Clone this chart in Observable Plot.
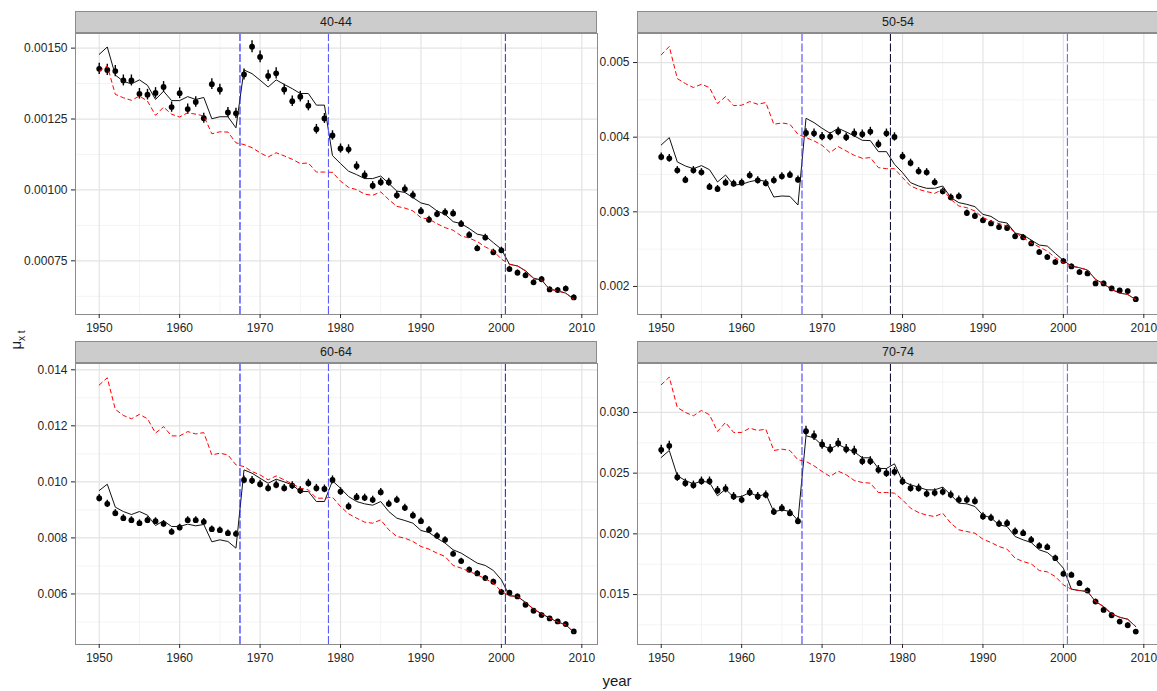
<!DOCTYPE html>
<html>
<head>
<meta charset="utf-8">
<script src="https://cdn.jsdelivr.net/npm/d3@7"></script>
<script src="https://cdn.jsdelivr.net/npm/@observablehq/plot@0.6"></script>
<style>
  html, body { margin: 0; padding: 0; background: #fff; }
  #wrap { position: relative; width: 1157px; height: 691px; overflow: hidden; background: #fff;
          font-family: "Liberation Sans Narrow", "Liberation Sans", Arial, sans-serif; }
  .strip { position: absolute; box-sizing: border-box; background: #cccccc; border: 1px solid #8c8c8c;
           text-align: center; font-size: 12.5px; line-height: 20px; color: #1a1a1a; }
  .panel { position: absolute; }
</style>
</head>
<body>
<div id="wrap"></div>
<script>
// ---------------- data ----------------
const years = [1950,1951,1952,1953,1954,1955,1956,1957,1958,1959,
               1960,1961,1962,1963,1964,1965,1966,1967,1968,1969,
               1970,1971,1972,1973,1974,1975,1976,1977,1978,1979,
               1980,1981,1982,1983,1984,1985,1986,1987,1988,1989,
               1990,1991,1992,1993,1994,1995,1996,1997,1998,1999,
               2000,2001,2002,2003,2004,2005,2006,2007,2008,2009];
const ageGroups = ["40-44", "50-54", "60-64", "70-74"];
const breakYears = [1967.5, 1978.5, 2000.5];
const xTicks = [1950, 1960, 1970, 1980, 1990, 2000, 2010];

// observed rates (points)
const obs4044 = [0.001427,0.001423,0.001419,0.001386,0.001386,0.001339,0.001336,0.001342,0.001363,0.001292,
  0.001341,0.001285,0.001310,0.001253,0.001373,0.001354,0.001273,0.001270,0.001407,0.001505,
  0.001469,0.001402,0.001411,0.001354,0.001313,0.001329,0.001297,0.001214,0.001252,0.001192,
  0.001146,0.001143,0.001084,0.001052,0.001015,0.001027,0.001027,0.000981,0.001003,0.000982,
  0.000925,0.000895,0.000915,0.000921,0.000917,0.000880,0.000841,0.000794,0.000832,0.000780,
  0.000787,0.000721,0.000708,0.000699,0.000674,0.000685,0.000649,0.000647,0.000652,0.000621];
// fitted model (solid black line)
const fit4044 = [0.001478,0.001504,0.001405,0.001383,0.001374,0.001388,0.001369,0.001319,0.001348,0.001315,
  0.001315,0.001329,0.001319,0.001326,0.001251,0.001258,0.001258,0.001219,0.001423,0.001410,
  0.001387,0.001363,0.001388,0.001372,0.001357,0.001340,0.001340,0.001299,0.001299,0.001121,
  0.001093,0.001066,0.001054,0.001040,0.001040,0.001049,0.001023,0.000996,0.000991,0.000973,
  0.000954,0.000947,0.000926,0.000914,0.000888,0.000881,0.000864,0.000844,0.000838,0.000814,
  0.000791,0.000738,0.000732,0.000715,0.000689,0.000682,0.000650,0.000644,0.000636,0.000615];
// baseline model (red dashed line)
const base4044 = [0.001419,0.001437,0.001337,0.001325,0.001316,0.001331,0.001313,0.001263,0.001292,0.001267,
  0.001257,0.001272,0.001267,0.001261,0.001198,0.001205,0.001204,0.001166,0.001160,0.001149,
  0.001131,0.001116,0.001131,0.001120,0.001108,0.001093,0.001095,0.001063,0.001063,0.001062,
  0.001031,0.001009,0.001001,0.000985,0.000981,0.000993,0.000966,0.000942,0.000936,0.000926,
  0.000902,0.000897,0.000881,0.000867,0.000858,0.000838,0.000830,0.000818,0.000799,0.000785,
  0.000756,0.000738,0.000732,0.000714,0.000686,0.000682,0.000650,0.000644,0.000636,0.000615];

const obs5054 = [0.003735,0.003717,0.003556,0.003426,0.003556,0.003529,0.003333,0.003306,0.003391,0.003377,
  0.003391,0.003489,0.003422,0.003382,0.003422,0.003476,0.003494,0.003431,0.004057,0.004052,
  0.004008,0.004008,0.004075,0.003999,0.004052,0.004039,0.004075,0.003905,0.004052,0.004003,
  0.003744,0.003654,0.003543,0.003529,0.003395,0.003274,0.003194,0.003207,0.002984,0.002944,
  0.002886,0.002845,0.002796,0.002783,0.002671,0.002658,0.002577,0.002461,0.002394,0.002327,
  0.002340,0.002269,0.002193,0.002175,0.002041,0.002041,0.001974,0.001947,0.001938,0.001830];
const fit5054 = [0.003896,0.003994,0.003668,0.003614,0.003578,0.003619,0.003565,0.003400,0.003493,0.003359,
  0.003368,0.003404,0.003426,0.003409,0.003198,0.003212,0.003207,0.003091,0.004253,0.004195,
  0.004119,0.004052,0.004119,0.004070,0.004017,0.003958,0.003954,0.003806,0.003806,0.003637,
  0.003525,0.003391,0.003346,0.003315,0.003315,0.003346,0.003190,0.003123,0.003100,0.003069,
  0.002966,0.002939,0.002868,0.002850,0.002716,0.002689,0.002622,0.002555,0.002541,0.002443,
  0.002349,0.002273,0.002251,0.002220,0.002094,0.002036,0.001960,0.001911,0.001893,0.001822];
const base5054 = [0.005103,0.005215,0.004785,0.004718,0.004665,0.004709,0.004665,0.004450,0.004544,0.004423,
  0.004428,0.004477,0.004441,0.004464,0.004173,0.004191,0.004173,0.004039,0.003994,0.003950,
  0.003891,0.003793,0.003874,0.003815,0.003757,0.003717,0.003726,0.003592,0.003578,0.003578,
  0.003458,0.003346,0.003301,0.003270,0.003248,0.003301,0.003167,0.003078,0.003055,0.003011,
  0.002921,0.002877,0.002841,0.002810,0.002720,0.002653,0.002586,0.002528,0.002474,0.002385,
  0.002318,0.002273,0.002251,0.002220,0.002094,0.002036,0.001960,0.001911,0.001893,0.001822];

const obs6064 = [0.009418,0.009216,0.008883,0.008705,0.008633,0.008526,0.008633,0.008598,0.008503,0.008217,
  0.008372,0.008633,0.008633,0.008574,0.008312,0.008277,0.008170,0.008146,0.010071,0.010048,
  0.009917,0.009774,0.009893,0.009774,0.009869,0.009691,0.009952,0.009774,0.009750,0.010071,
  0.009655,0.009121,0.009453,0.009430,0.009358,0.009632,0.009216,0.009358,0.009073,0.008800,
  0.008598,0.008289,0.008075,0.007932,0.007433,0.007172,0.006863,0.006732,0.006565,0.006435,
  0.006066,0.006043,0.005912,0.005615,0.005401,0.005246,0.005127,0.005021,0.004926,0.004664];
const fit6064 = [0.009691,0.009917,0.009097,0.008942,0.008835,0.008942,0.008812,0.008443,0.008610,0.008408,
  0.008408,0.008491,0.008431,0.008479,0.007861,0.007932,0.007873,0.007635,0.010428,0.010309,
  0.010131,0.009952,0.010095,0.010000,0.009893,0.009655,0.009655,0.009299,0.009299,0.010036,
  0.009774,0.009477,0.009299,0.009216,0.009168,0.009299,0.008942,0.008705,0.008621,0.008526,
  0.008265,0.008194,0.007992,0.007813,0.007576,0.007457,0.007279,0.007100,0.007017,0.006839,
  0.006506,0.005936,0.005912,0.005698,0.005460,0.005294,0.005139,0.004997,0.004902,0.004628];
const base6064 = [0.013458,0.013715,0.012591,0.012372,0.012253,0.012408,0.012253,0.011741,0.011973,0.011641,
  0.011641,0.011795,0.011711,0.011759,0.010963,0.011022,0.010963,0.010606,0.010547,0.010368,
  0.010250,0.010071,0.010214,0.010071,0.009929,0.009774,0.009715,0.009418,0.009418,0.009453,
  0.009121,0.008859,0.008705,0.008562,0.008526,0.008645,0.008289,0.008051,0.007992,0.007873,
  0.007694,0.007599,0.007457,0.007338,0.007017,0.006922,0.006803,0.006684,0.006542,0.006387,
  0.006090,0.005936,0.005912,0.005698,0.005460,0.005294,0.005139,0.004997,0.004902,0.004628];

const obs7074 = [0.026923,0.027253,0.024670,0.024176,0.024011,0.024341,0.024341,0.023572,0.023709,0.023077,
  0.022802,0.023407,0.023077,0.023214,0.021813,0.022116,0.021704,0.021044,0.028461,0.028077,
  0.027362,0.026978,0.027473,0.026978,0.026840,0.025989,0.025989,0.025275,0.025000,0.025110,
  0.024313,0.023764,0.023764,0.023297,0.023379,0.023462,0.023214,0.022802,0.022802,0.022692,
  0.021429,0.021319,0.020824,0.020879,0.020192,0.020055,0.019506,0.019011,0.018901,0.017995,
  0.016704,0.016621,0.015934,0.015330,0.014423,0.013737,0.013297,0.012775,0.012473,0.011951];
const fit7074 = [0.026291,0.026868,0.024780,0.024396,0.024121,0.024341,0.024231,0.023132,0.023681,0.023022,
  0.023077,0.023407,0.023077,0.023297,0.021813,0.021978,0.021841,0.021099,0.028077,0.027912,
  0.027308,0.026978,0.027362,0.027033,0.026758,0.026264,0.026264,0.025385,0.025385,0.025769,
  0.024341,0.024038,0.023846,0.023626,0.023626,0.023846,0.023214,0.022527,0.022473,0.022253,
  0.021539,0.021319,0.020742,0.020604,0.019780,0.019506,0.019286,0.018681,0.018462,0.017912,
  0.017170,0.015440,0.015330,0.015247,0.014423,0.014011,0.013407,0.013132,0.012967,0.012363];
const base7074 = [0.032280,0.032912,0.030412,0.030000,0.029725,0.030165,0.029807,0.028434,0.029176,0.028352,
  0.028352,0.028709,0.028516,0.028626,0.026868,0.026978,0.026868,0.026099,0.025962,0.025604,
  0.025137,0.024725,0.025165,0.024863,0.024396,0.024231,0.024176,0.023407,0.023407,0.023352,
  0.022802,0.022115,0.021758,0.021539,0.021429,0.021703,0.020879,0.020330,0.020192,0.020055,
  0.019560,0.019286,0.018956,0.018736,0.017995,0.017720,0.017528,0.016978,0.016868,0.016484,
  0.015797,0.015440,0.015330,0.015247,0.014423,0.014011,0.013407,0.013132,0.012967,0.012363];

// y tick labels per panel
const yTicks4044 = [0.00075, 0.00100, 0.00125, 0.00150];
const yTicks5054 = [0.002, 0.003, 0.004, 0.005];
const yTicks6064 = [0.006, 0.008, 0.010, 0.012, 0.014];
const yTicks7074 = [0.015, 0.020, 0.025, 0.030];
// relative half-width of the interval bars around the observed rates
const ciRel = 0.014;

// ---------------- layout / style ----------------
const panelW = 522, panelH = 281, stripH = 22;
const mL = 70, mR = 8, mB = 30, mT = 1;
const panels = [
  {age: ageGroups[0], obs: obs4044, fit: fit4044, base: base4044, ticks: yTicks4044, fmt: ".5f",
   dom: [0.0005607, 0.0015516], left: 75, top: 10.5, vcol: ["#1a1aff", "#5c5cff", "#3a3aff"]},
  {age: ageGroups[1], obs: obs5054, fit: fit5054, base: base5054, ticks: yTicks5054, fmt: ".3f",
   dom: [0.0016243, 0.005389], left: 637, top: 10.5, vcol: ["#4a4aff", "#15153a", "#6a6aff"]},
  {age: ageGroups[2], obs: obs6064, fit: fit6064, base: base6064, ticks: yTicks6064, fmt: ".3f",
   dom: [0.004196, 0.014225], left: 75, top: 341, vcol: ["#1a1aff", "#5a5aff", "#2a2aff"]},
  {age: ageGroups[3], obs: obs7074, fit: fit7074, base: base7074, ticks: yTicks7074, fmt: ".3f",
   dom: [0.010886, 0.034032], left: 637, top: 341, vcol: ["#4040ff", "#15153a", "#6a6aff"]}
];
const xDomain = [1947.05, 2011.95];
const xMinor = [1955, 1965, 1975, 1985, 1995, 2005];

function minorOf(ticks, dom) {
  const step = ticks[1] - ticks[0];
  const out = [];
  for (let i = -1; i < ticks.length; i++) {
    const m = ticks[0] + (i + 0.5) * step;
    if (m > dom[0] && m < dom[1]) out.push(m);
  }
  return out;
}

const wrap = document.getElementById("wrap");

panels.forEach(p => {
  const rows = years.map((yr, i) => ({year: yr, obs: p.obs[i], fit: p.fit[i], base: p.base[i]}));
  const strip = document.createElement("div");
  strip.className = "strip";
  strip.style.left = p.left + "px";
  strip.style.top = p.top + "px";
  strip.style.width = panelW + "px";
  strip.style.height = stripH + "px";
  strip.textContent = p.age;
  wrap.appendChild(strip);

  const chart = Plot.plot({
    width: mL + panelW + mR,
    height: mT + panelH + mB,
    marginLeft: mL, marginRight: mR, marginTop: mT, marginBottom: mB,
    style: {fontFamily: '"Liberation Sans Narrow", "Liberation Sans", Arial, sans-serif', fontSize: "12px", color: "#262626", background: "transparent"},
    x: {domain: xDomain},
    y: {domain: p.dom},
    marks: [
      Plot.gridX(xMinor, {stroke: "#f4f4f4", strokeOpacity: 1, strokeWidth: 1}),
      Plot.gridY(minorOf(p.ticks, p.dom), {stroke: "#f4f4f4", strokeOpacity: 1, strokeWidth: 1}),
      Plot.gridX(xTicks, {stroke: "#e3e3e3", strokeOpacity: 1, strokeWidth: 1.2}),
      Plot.gridY(p.ticks, {stroke: "#e3e3e3", strokeOpacity: 1, strokeWidth: 1.2}),
      Plot.ruleX(rows, {x: "year", y1: d => d.obs * (1 - ciRel), y2: d => d.obs * (1 + ciRel), stroke: "black", strokeWidth: 1.4}),
      Plot.dot(rows, {x: "year", y: "obs", r: 2.9, fill: "black", stroke: "none"}),
      Plot.line(rows, {x: "year", y: "fit", stroke: "#111", strokeWidth: 1}),
      Plot.line(rows, {x: "year", y: "base", stroke: "#ff0000", strokeWidth: 1, strokeDasharray: "4,3.5"}),
      Plot.ruleX(breakYears, {x: d => d, stroke: (d, i) => p.vcol[i], strokeWidth: 1.1, strokeDasharray: "8,2.5"}),
      Plot.frame({stroke: "#8c8c8c", strokeWidth: 1}),
      Plot.axisX(xTicks, {tickFormat: d3.format("d"), tickSize: 4, tickPadding: 5, label: null, fontSize: 12}),
      Plot.axisY(p.ticks, {tickFormat: d3.format(p.fmt), tickSize: 4, tickPadding: 4, label: null, fontSize: 12})
    ]
  });
  chart.classList.add("panel");
  chart.style.left = (p.left - mL) + "px";
  chart.style.top = (p.top + stripH - mT) + "px";
  wrap.appendChild(chart);
});

// shared axis titles
const ns = "http://www.w3.org/2000/svg";
const over = document.createElementNS(ns, "svg");
over.setAttribute("width", 1157);
over.setAttribute("height", 691);
over.style.position = "absolute";
over.style.left = "0px";
over.style.top = "0px";
over.style.pointerEvents = "none";
over.innerHTML =
  '<text x="617" y="686" text-anchor="middle" font-size="15" fill="#1a1a1a" font-family="Liberation Sans Narrow, Liberation Sans, Arial, sans-serif">year</text>' +
  '<text transform="translate(21,340) rotate(-90)" text-anchor="middle" font-size="15" fill="#1a1a1a" font-family="Liberation Sans Narrow, Liberation Sans, Arial, sans-serif">μ<tspan font-size="10" dy="4">x t</tspan></text>';
wrap.appendChild(over);
</script>
</body>
</html>
